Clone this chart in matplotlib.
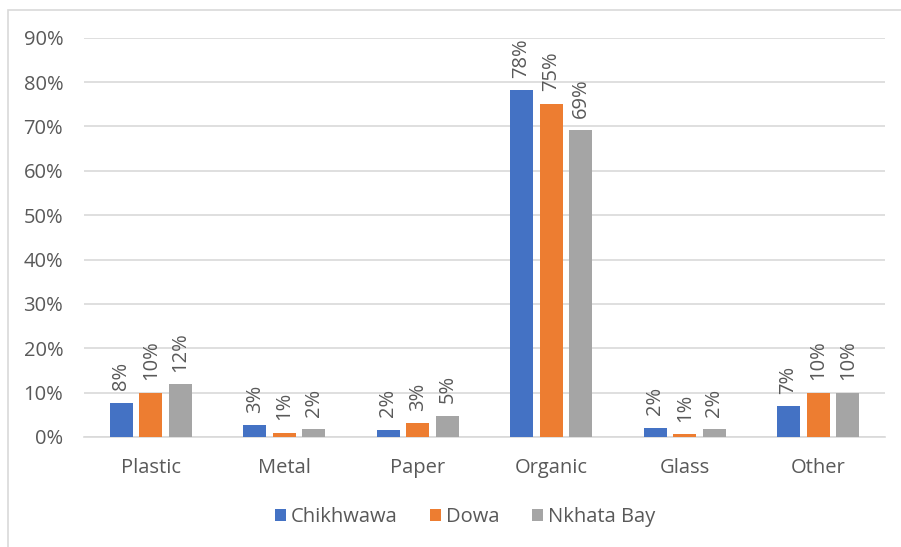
import matplotlib
matplotlib.use("Agg")
import matplotlib.pyplot as plt
from matplotlib.patches import Rectangle
import numpy as np

categories = ["Plastic", "Metal", "Paper", "Organic", "Glass", "Other"]
series_names = ["Chikhwawa", "Dowa", "Nkhata Bay"]
chikhwawa = [7.7, 2.6, 1.6, 78.1, 2.1, 6.9]
dowa = [10.0, 1.0, 3.1, 75.1, 0.6, 10.0]
nkhata_bay = [11.9, 1.7, 4.8, 69.1, 1.7, 10.0]
yticks = [0, 10, 20, 30, 40, 50, 60, 70, 80, 90]

colors = ["#4472C4", "#ED7D31", "#A5A5A5"]
text_color = "#595959"
grid_color = "#D9D9D9"

plt.rcParams["font.family"] = ["Open Sans", "DejaVu Sans"]

W, H = 901, 547
fig = plt.figure(figsize=(W / 100, H / 100), dpi=100)

# chart-area border
fig.patches.append(Rectangle((8 / W, -0.05), 1.05, 1 - 10 / H + 0.05,
                             transform=fig.transFigure, fill=False,
                             edgecolor=grid_color, linewidth=1.2))

ax = fig.add_axes([84 / W, 1 - 437 / H, (885 - 84) / W, (437 - 37.7) / H])

x = np.arange(len(categories))
width = 0.172
step = 0.222
all_series = [chikhwawa, dowa, nkhata_bay]
for i, (vals, name, col) in enumerate(zip(all_series, series_names, colors)):
    pos = x + (i - 1) * step
    bars = ax.bar(pos, vals, width, color=col, label=name, zorder=3)
    for b, v in zip(bars, vals):
        ax.annotate(f"{round(v):.0f}%", (b.get_x() + b.get_width() / 2, v),
                    xytext=(0, 9), textcoords="offset points",
                    rotation=90, ha="center", va="bottom",
                    fontsize=14.5, color=text_color)

ax.set_xlim(-0.5, len(categories) - 0.5)
ax.set_ylim(0, 90)
ax.set_yticks(yticks)
ax.set_yticklabels([f"{t}%" for t in yticks])
ax.set_xticks(x)
ax.set_xticklabels(categories)
ax.tick_params(axis="both", length=0, labelsize=14.5, colors=text_color)
ax.tick_params(axis="y", pad=15)
ax.tick_params(axis="x", pad=15)
ax.grid(axis="y", color=grid_color, linewidth=1.2, zorder=0)
for s in ["top", "right", "left"]:
    ax.spines[s].set_visible(False)
ax.spines["bottom"].set_color(grid_color)
ax.spines["bottom"].set_linewidth(1.2)

fig.legend(loc="center", bbox_to_anchor=(465 / W, 1 - 517 / H), ncol=3,
           frameon=False, fontsize=14.5, labelcolor=text_color,
           handlelength=0.55, handleheight=0.55, handletextpad=0.25,
           columnspacing=1.6)

fig.savefig("out.png", dpi=100)
